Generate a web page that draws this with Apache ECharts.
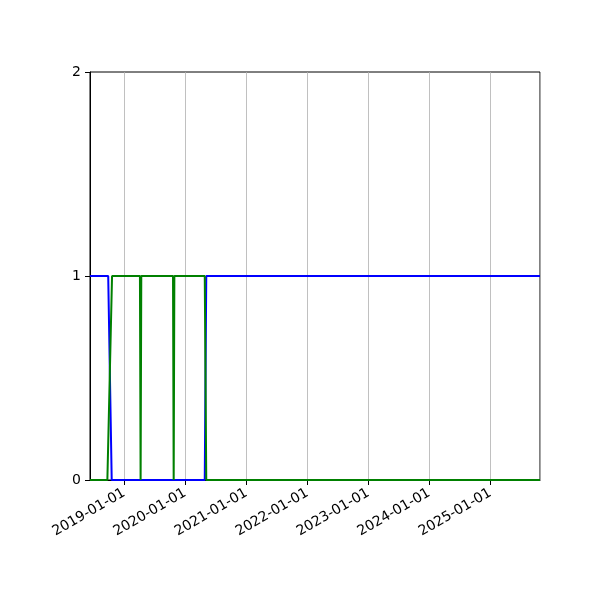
<!DOCTYPE html>
<html>
<head>
<meta charset="utf-8">
<script src="https://cdn.jsdelivr.net/npm/echarts@6/dist/echarts.min.js"></script>
<style>
  html, body { margin: 0; padding: 0; background: #fff; }
  #chart { width: 600px; height: 600px; }
</style>
</head>
<body>
<div id="chart"></div>
<script>
// x range of the axes
const xMin = "2018-06-10";
const xMax = "2025-10-25";

// blue series: dates and values
const blueDates = ["2018-06-10", "2018-09-27", "2018-10-18", "2020-04-27", "2020-05-06", "2025-10-25"];
const blueValues = [1, 1, 0, 0, 1, 1];

// green series: dates and values
const greenDates = ["2018-06-10", "2018-09-22", "2018-10-20", "2019-04-05", "2019-04-09", "2019-04-13",
  "2019-10-20", "2019-10-24", "2019-10-28", "2020-04-27", "2020-05-06", "2025-10-25"];
const greenValues = [0, 0, 1, 1, 0, 1, 1, 0, 1, 1, 0, 0];

const yTicks = [0, 1, 2];

const pairs = function(dates, values) {
  return dates.map((d, i) => [d, values[i]]);
};

const myChart = echarts.init(document.getElementById("chart"));

const option = {
  animation: false,
  backgroundColor: "#fff",
  textStyle: { fontFamily: "DejaVu Sans" },
  grid: {
    left: 90,
    right: 60,
    top: 72,
    bottom: 120,
    show: true,
    borderColor: "#000",
    borderWidth: 1
  },
  xAxis: {
    type: "time",
    min: xMin,
    max: xMax,
    minInterval: 365 * 86400000,
    maxInterval: 366 * 86400000,
    axisLine: { lineStyle: { color: "#000" } },
    axisTick: { length: 5, lineStyle: { color: "#000" } },
    minorTick: { show: false },
    splitLine: { show: true, lineStyle: { color: "#b0b0b0", width: 0.8 } },
    axisLabel: {
      rotate: 30,
      color: "#000",
      fontSize: 14,
      margin: 12,
      hideOverlap: false,
      formatter: function(v) {
        return echarts.time.format(v, "{yyyy}-{MM}-{dd}", false);
      }
    }
  },
  yAxis: {
    type: "value",
    min: yTicks[0],
    max: yTicks[yTicks.length - 1],
    interval: 1,
    axisLine: { show: true, lineStyle: { color: "#000" } },
    axisTick: { show: true, length: 5, lineStyle: { color: "#000" } },
    splitLine: { show: false },
    axisLabel: { color: "#000", fontSize: 14, margin: 9 }
  },
  series: [
    {
      name: "blue",
      type: "line",
      data: pairs(blueDates, blueValues),
      showSymbol: false,
      lineStyle: { color: "#0000ff", width: 2 },
      itemStyle: { color: "#0000ff" }
    },
    {
      name: "green",
      type: "line",
      data: pairs(greenDates, greenValues),
      showSymbol: false,
      lineStyle: { color: "#008000", width: 2 },
      itemStyle: { color: "#008000" }
    }
  ]
};

myChart.setOption(option);
</script>
</body>
</html>
